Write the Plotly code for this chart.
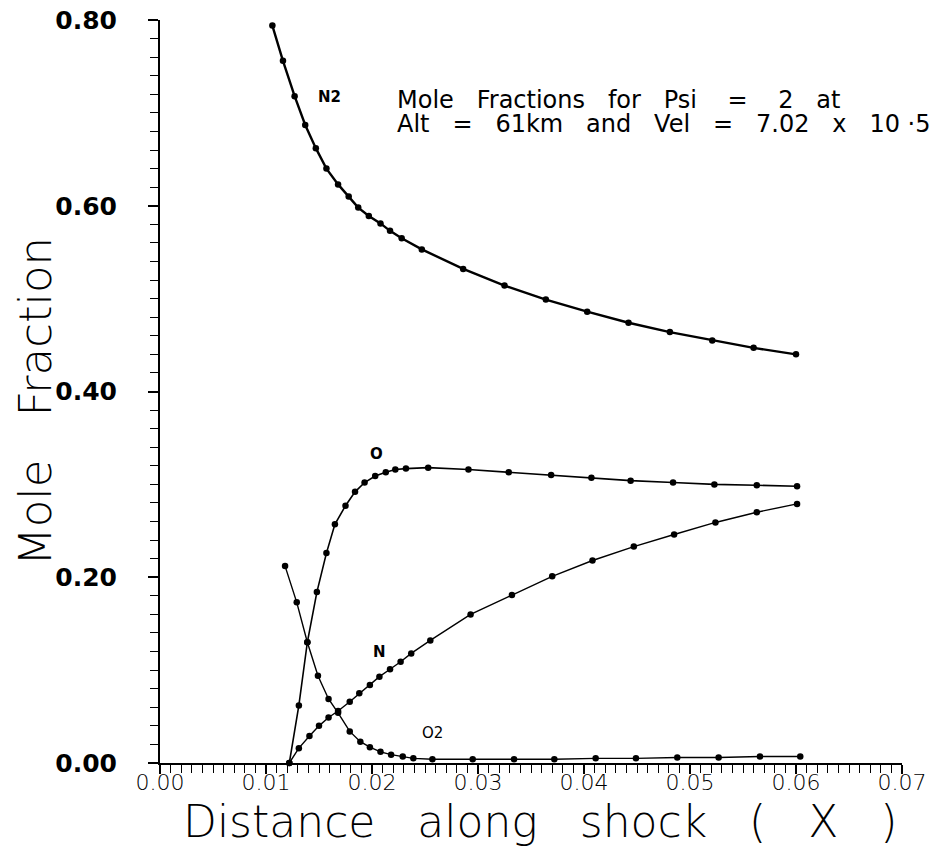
import plotly.graph_objects as go

# distance along shock (x) and mole fractions
n2_x = [0.0106, 0.0116, 0.0127, 0.0137, 0.0147, 0.0157, 0.0168, 0.0178, 0.0187, 0.0197, 0.0208, 0.0217,
        0.0228, 0.0247, 0.0286, 0.0325, 0.0364, 0.0403, 0.0442, 0.0481, 0.0521, 0.0560, 0.0600]
n2_y = [0.794, 0.756, 0.718, 0.687, 0.662, 0.640, 0.623, 0.610, 0.598, 0.589, 0.581, 0.573,
        0.565, 0.553, 0.532, 0.514, 0.499, 0.486, 0.474, 0.464, 0.455, 0.447, 0.440]

o_x = [0.0122, 0.0131, 0.0139, 0.0148, 0.0157, 0.0165, 0.0175, 0.0184, 0.0193, 0.0203, 0.0213, 0.0222,
       0.0232, 0.0253, 0.0291, 0.0329, 0.0369, 0.0407, 0.0444, 0.0484, 0.0523, 0.0563, 0.0601]
o_y = [0.000, 0.062, 0.130, 0.184, 0.226, 0.257, 0.277, 0.292, 0.302, 0.309, 0.313, 0.316,
       0.317, 0.318, 0.316, 0.313, 0.310, 0.307, 0.304, 0.302, 0.300, 0.299, 0.298]

n_x = [0.0122, 0.0131, 0.0141, 0.0150, 0.0159, 0.0168, 0.0179, 0.0188, 0.0198, 0.0207, 0.0217, 0.0227,
       0.0237, 0.0255, 0.0293, 0.0332, 0.0370, 0.0408, 0.0447, 0.0485, 0.0524, 0.0563, 0.0601]
n_y = [0.000, 0.016, 0.029, 0.040, 0.049, 0.056, 0.066, 0.075, 0.084, 0.093, 0.101, 0.109,
       0.118, 0.132, 0.160, 0.181, 0.201, 0.218, 0.233, 0.246, 0.259, 0.270, 0.279]

o2_x = [0.0118, 0.0129, 0.0139, 0.0149, 0.0159, 0.0168, 0.0179, 0.0189, 0.0198, 0.0208, 0.0218, 0.0229,
        0.0239, 0.0257, 0.0295, 0.0334, 0.0372, 0.0411, 0.0449, 0.0488, 0.0527, 0.0566, 0.0604]
o2_y = [0.212, 0.173, 0.130, 0.094, 0.069, 0.054, 0.034, 0.023, 0.017, 0.012, 0.009, 0.007,
        0.005, 0.004, 0.004, 0.004, 0.004, 0.005, 0.005, 0.006, 0.006, 0.007, 0.007]

species = [
    ("N2", n2_x, n2_y, 2.4),
    ("O", o_x, o_y, 1.6),
    ("N", n_x, n_y, 1.4),
    ("O2", o2_x, o2_y, 1.4),
]

# curve labels (text, x, y, bold)
curve_labels = [
    ("N2", 0.0160, 0.717, True),
    ("O", 0.0204, 0.333, True),
    ("N", 0.0207, 0.119, True),
    ("O2", 0.0257, 0.032, False),
]

x_ticks = [0.00, 0.01, 0.02, 0.03, 0.04, 0.05, 0.06, 0.07]
y_ticks = [0.00, 0.20, 0.40, 0.60, 0.80]

GAP = "\u00a0\u00a0 "
WIDE = "\u00a0\u00a0 "

fig = go.Figure()

for name, xs, ys, width in species:
    fig.add_trace(go.Scatter(
        x=xs, y=ys, name=name,
        mode="lines+markers",
        line=dict(color="black", width=width),
        marker=dict(color="black", size=6.5),
        showlegend=False,
        cliponaxis=False
    ))

for text, lx, ly, bold in curve_labels:
    fig.add_annotation(
        x=lx, y=ly, xref="x", yref="y", text=f"<b>{text}</b>" if bold else text, showarrow=False,
        font=dict(family="DejaVu Sans", size=15, color="black")
    )

# two-line caption, drawn as two annotations to keep the tight line spacing
fig.add_annotation(
    x=0.0222, y=0.714, xref="x", yref="y", xanchor="left", yanchor="middle",
    text=GAP.join(["Mole", "Fractions", "for", "Psi\u00a0", "=\u00a0", "2", "at"]),
    showarrow=False, font=dict(family="DejaVu Sans", size=24, color="black")
)
fig.add_annotation(
    x=0.0222, y=0.688, xref="x", yref="y", xanchor="left", yanchor="middle",
    text=GAP.join(["Alt", "=", "61km", "and", "Vel", "=", "7.02", "x", "10 ·5"]),
    showarrow=False, font=dict(family="DejaVu Sans", size=24, color="black")
)

# axis titles
fig.add_annotation(
    x=-0.167, y=0.486, xref="paper", yref="paper", xanchor="center", yanchor="middle",
    text="Mole\u00a0\u00a0 Fraction", textangle=-90, showarrow=False,
    font=dict(family="DejaVu Sans", size=45, color="black", weight=200)
)
fig.add_annotation(
    x=0.512, y=-0.1155, xref="paper", yref="paper", xanchor="center", yanchor="bottom",
    text=WIDE.join(["Distance", "along", "shock", "(", "X", ")"]),
    showarrow=False,
    font=dict(family="DejaVu Sans", size=44, color="black", weight=200)
)

fig.update_layout(
    width=935, height=842,
    margin=dict(l=152, r=41, t=12, b=87),
    paper_bgcolor="white", plot_bgcolor="white",
    xaxis=dict(
        range=[0, 0.07], automargin=False,
        tickvals=x_ticks,
        ticktext=[f"{v:.2f}" for v in x_ticks],
        ticks="outside", ticklen=9, tickwidth=1.5, tickcolor="black",
        minor=dict(dtick=0.001, tick0=0, ticks="outside", ticklen=8, tickwidth=1.2, tickcolor="black"),
        showline=True, linecolor="black", linewidth=2,
        showgrid=False, zeroline=False,
        ticklabelstandoff=-10,
        ticklabeloverflow="allow",
        tickfont=dict(family="DejaVu Sans", size=22, color="black", weight=200),
    ),
    yaxis=dict(
        range=[0, 0.8], automargin=False,
        tickvals=y_ticks,
        ticktext=[f"{v:.2f}" for v in y_ticks],
        ticks="outside", ticklen=10, tickwidth=1.5, tickcolor="black",
        minor=dict(dtick=0.02, tick0=0, ticks="outside", ticklen=8, tickwidth=1.2, tickcolor="black"),
        showline=True, linecolor="black", linewidth=2,
        showgrid=False, zeroline=False,
        ticklabelstandoff=26,
        ticklabeloverflow="allow",
        tickfont=dict(family="DejaVu Sans", size=25, color="black", weight="bold"),
    ),
)

fig.write_html("out.html")
